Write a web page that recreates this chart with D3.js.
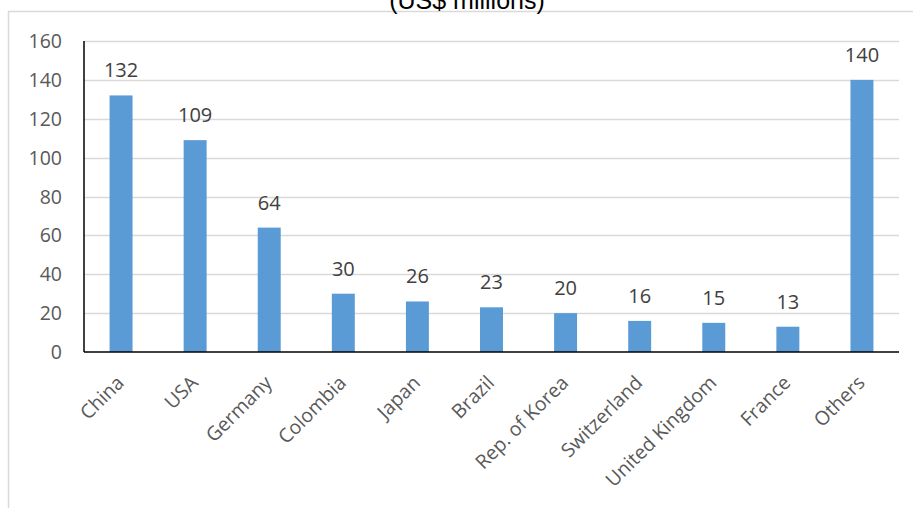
<!DOCTYPE html>
<html>
<head>
<meta charset="utf-8">
<script src="https://cdn.jsdelivr.net/npm/d3@7/dist/d3.min.js"></script>
<style>
  body { margin: 0; background: #fff; }
  svg { display: block; }
</style>
</head>
<body>
<svg id="chart" width="913" height="508"></svg>
<script>
var width = 913, height = 508

// data
var countries = ["China", "USA", "Germany", "Colombia", "Japan", "Brazil",
                 "Rep. of Korea", "Switzerland", "United Kingdom", "France", "Others"];
var values = [132, 109, 64, 30, 26, 23, 20, 16, 15, 13, 140];
var yTicks = [0, 20, 40, 60, 80, 100, 120, 140, 160];
var title = "(US$ millions)";

var margin = {left: 84, right: 14, top: 41, bottom: 156};
var font = "'Open Sans', sans-serif";

var svg = d3.select("#chart")

// outer chart frame (only left and top edges show)
svg.append("rect")
    .attr("x", 8.5)
    .attr("y", 11.5)
    .attr("width", 940)
    .attr("height", 540)
    .attr("fill", "none")
    .attr("stroke", "#d9d9d9")
    .attr("stroke-width", 1.5);

// title sits mostly above the frame, as in the original
svg.append("text")
    .attr("x", 467)
    .attr("y", 9)
    .attr("text-anchor", "middle")
    .style("font-family", "'Liberation Sans', Arial, sans-serif")
    .style("font-size", "25px")
    .attr("fill", "#000")
    .text(title);

var x = d3.scaleBand()
    .domain(countries)
    .range([margin.left, width - margin.right])
    .paddingInner(0.69)
    .paddingOuter(0.345);

var y = d3.scaleLinear()
    .domain([0, 160])
    .range([height - margin.bottom, margin.top]);

// gridlines
svg.append("g")
    .selectAll("line")
    .data(yTicks.slice(1))
    .join("line")
    .attr("x1", margin.left)
    .attr("x2", width - margin.right)
    .attr("y1", function(d) { return Math.round(y(d)) + 0.5 })
    .attr("y2", function(d) { return Math.round(y(d)) + 0.5 })
    .attr("stroke", "#d9d9d9")
    .attr("stroke-width", 1.3);

// y tick labels
svg.append("g")
    .selectAll("text")
    .data(yTicks)
    .join("text")
    .attr("x", 62)
    .attr("y", function(d) { return y(d) + 7 })
    .attr("text-anchor", "end")
    .style("font-family", font)
    .style("font-size", "19.5px")
    .attr("fill", "#595959")
    .text(function(d) { return d });

// bars
svg.append("g")
    .selectAll("rect")
    .data(values)
    .join("rect")
    .attr("x", function(d, i) { return x(countries[i]) })
    .attr("width", x.bandwidth())
    .attr("y", function(d) { return y(d) })
    .attr("height", function(d) { return y(0) - y(d) })
    .attr("fill", "#5b9bd5");

// value labels
svg.append("g")
    .selectAll("text")
    .data(values)
    .join("text")
    .attr("x", function(d, i) { return x(countries[i]) + x.bandwidth() / 2 })
    .attr("y", function(d) { return y(d) - 18 })
    .attr("text-anchor", "middle")
    .style("font-family", font)
    .style("font-size", "20px")
    .attr("fill", "#404040")
    .text(function(d) { return d });

// axes lines
svg.append("line")
    .attr("x1", margin.left).attr("x2", margin.left)
    .attr("y1", y(160)).attr("y2", y(0))
    .attr("stroke", "#000").attr("stroke-width", 1.5);
svg.append("line")
    .attr("x1", margin.left).attr("x2", width - margin.right)
    .attr("y1", y(0)).attr("y2", y(0))
    .attr("stroke", "#000").attr("stroke-width", 1.5);

// category labels, rotated
svg.append("g")
    .selectAll("text")
    .data(countries)
    .join("text")
    .attr("transform", function(d) {
        return "translate(" + (x(d) + x.bandwidth() / 2 + 4) + "," + 384 + ") rotate(-45)"
    })
    .attr("text-anchor", "end")
    .style("font-family", font)
    .style("font-size", "19.5px")
    .attr("fill", "#595959")
    .text(function(d) { return d });
</script>
</body>
</html>
